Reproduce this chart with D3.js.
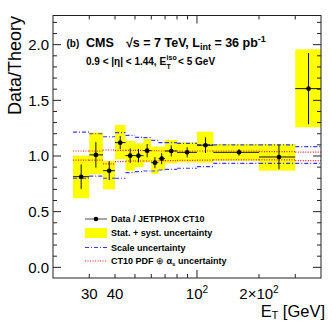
<!DOCTYPE html>
<html>
<head>
<meta charset="utf-8">
<script src="https://cdnjs.cloudflare.com/ajax/libs/d3/7.8.5/d3.min.js"></script>
<style>
  body { margin: 0; background: #fff; }
  text { font-family: 'Liberation Sans', Arial, sans-serif; fill: #000; }
  .hdr { font-weight: bold; }
  .leg { font-weight: bold; font-size: 9px; }
</style>
</head>
<body>
<script>
// E_T bins (GeV) and data / theory ratio
var binEdges = [25, 30, 35, 40, 45, 50, 55, 60, 65, 70, 80, 100, 120, 200, 300, 400];
var pointEt  = [27.4, 32.3, 37.5, 42.4, 47.4, 52, 57.3, 62.5, 67.4, 75, 89.6, 110, 160, 250, 348];
var ratio    = [0.814, 1.01, 0.868, 1.12, 1.003, 1.003, 1.048, 0.94, 0.976, 1.045, 1.033, 1.097, 1.033, 0.991, 1.605];
var statErr  = [0.11, 0.115, 0.085, 0.06, 0.065, 0.06, 0.06, 0.05, 0.05, 0.05, 0.045, 0.07, 0.03, 0.11, 0.32];
// stat + syst band
var totLo = [0.62, 0.835, 0.70, 0.97, 0.868, 0.90, 0.943, 0.838, 0.874, 0.934, 0.943, 0.94, 0.958, 0.868, 1.258];
var totHi = [1.003, 1.212, 0.955, 1.278, 1.137, 1.114, 1.153, 1.084, 1.084, 1.144, 1.123, 1.218, 1.108, 1.108, 1.958];
// scale uncertainty
var scaleHi = [1.215, 1.2, 1.173, 1.21, 1.185, 1.168, 1.165, 1.14, 1.12, 1.12, 1.114, 1.10, 1.10, 1.10, 1.085];
var scaleLo = [0.80, 0.82, 0.80, 0.80, 0.85, 0.86, 0.865, 0.865, 0.874, 0.88, 0.89, 0.904, 0.934, 0.934, 0.934];
// CT10 PDF + alpha_s uncertainty
var pdfHi = [1.045, 1.045, 1.054, 1.05, 1.05, 1.05, 1.048, 1.048, 1.045, 1.045, 1.045, 1.045, 1.045, 1.04, 1.035];
var pdfLo = [0.962, 0.962, 0.93, 0.95, 0.955, 0.955, 0.955, 0.955, 0.958, 0.958, 0.96, 0.962, 0.965, 0.965, 0.958];

var yMajor = [0, 0.5, 1.0, 1.5, 2.0];
var xMinor = [30, 40, 50, 60, 70, 80, 90, 200, 300];
var xMajor = [100];

const W = 332, H = 321;
const L = 53, R = 321, T = 15.5, B = 278;

const x = d3.scaleLog().domain([20, 400]).range([L, R]);
const y = d3.scaleLinear().domain([-0.096, 2.262]).range([B, T]);

const svg = d3.select("body").append("svg")
  .attr("width", W).attr("height", H);

var bins = ratio.map((r, i) => ({
  x0: binEdges[i], x1: binEdges[i + 1], xp: pointEt[i], r: r, e: statErr[i],
  lo: totLo[i], hi: totHi[i], sLo: scaleLo[i], sHi: scaleHi[i], pLo: pdfLo[i], pHi: pdfHi[i]
}));

// yellow stat+syst boxes
svg.append("g").selectAll("rect").data(bins).enter().append("rect")
  .attr("x", d => x(d.x0))
  .attr("width", d => x(d.x1) - x(d.x0))
  .attr("y", d => y(d.hi))
  .attr("height", d => y(d.lo) - y(d.hi))
  .attr("fill", "#ffff00");

// scale (blue dash-dot) and pdf (red dotted) lines
function bandLines(key, color, dash) {
  svg.append("g").selectAll("line").data(bins).enter().append("line")
    .attr("x1", d => x(d.x0)).attr("x2", d => x(d.x1))
    .attr("y1", d => y(d[key])).attr("y2", d => y(d[key]))
    .attr("stroke", color).attr("stroke-width", 1.2)
    .attr("stroke-dasharray", dash);
}
bandLines("sHi", "#3a3aff", "4,2,1,2");
bandLines("sLo", "#3a3aff", "4,2,1,2");
bandLines("pHi", "#ff1a1a", "1,1.5");
bandLines("pLo", "#ff1a1a", "1,1.5");

// data points with error bars
const pts = svg.append("g");
pts.selectAll(".hbar").data(bins).enter().append("line")
  .attr("x1", d => x(d.x0)).attr("x2", d => x(d.x1))
  .attr("y1", d => y(d.r)).attr("y2", d => y(d.r))
  .attr("stroke", "#111").attr("stroke-width", 1);
pts.selectAll(".vbar").data(bins).enter().append("line")
  .attr("x1", d => x(d.xp)).attr("x2", d => x(d.xp))
  .attr("y1", d => y(d.r + d.e)).attr("y2", d => y(d.r - d.e))
  .attr("stroke", "#111").attr("stroke-width", 1);
pts.selectAll("circle").data(bins).enter().append("circle")
  .attr("cx", d => x(d.xp)).attr("cy", d => y(d.r))
  .attr("r", 2.3).attr("fill", "#000");

// frame
svg.append("rect")
  .attr("x", L).attr("y", T).attr("width", R - L).attr("height", B - T)
  .attr("fill", "none").attr("stroke", "#222").attr("stroke-width", 1);

// y axis ticks (inside) + labels
var yMinor = d3.range(0, 2.21, 0.1).map(v => +v.toFixed(1));
const tk = svg.append("g").attr("stroke", "#222").attr("stroke-width", 1);
yMinor.forEach(v => {
  var len = yMajor.indexOf(v) >= 0 ? 8 : 4;
  tk.append("line").attr("x1", L).attr("x2", L + len).attr("y1", y(v)).attr("y2", y(v));
  tk.append("line").attr("x1", R).attr("x2", R - len).attr("y1", y(v)).attr("y2", y(v));
});
svg.append("g").selectAll("text").data(yMajor).enter().append("text")
  .attr("x", L - 4).attr("y", d => y(d)).attr("dy", "0.35em")
  .attr("text-anchor", "end").style("font-size", "15px")
  .text(d => d3.format(".1f")(d));

// x axis ticks (log)
xMinor.concat(xMajor).forEach(v => {
  var len = xMajor.indexOf(v) >= 0 ? 8 : 4;
  tk.append("line").attr("x1", x(v)).attr("x2", x(v)).attr("y1", B).attr("y2", B - len);
  tk.append("line").attr("x1", x(v)).attr("x2", x(v)).attr("y1", T).attr("y2", T + len);
});

// x tick labels
var xLabels = [
  { v: 30, base: "30", sup: "" },
  { v: 40, base: "40", sup: "" },
  { v: 100, base: "10", sup: "2" },
  { v: 200, base: "2\u00d710", sup: "2" }
];
xLabels.forEach(d => {
  var t = svg.append("text").attr("x", x(d.v)).attr("y", 298.5)
    .attr("text-anchor", "middle").style("font-size", "15px");
  t.append("tspan").text(d.base);
  if (d.sup) t.append("tspan").attr("dy", -6).style("font-size", "10px").text(d.sup);
});

// axis titles
var xt = svg.append("text").attr("x", 325).attr("y", 317)
  .attr("text-anchor", "end").style("font-size", "16.5px");
xt.append("tspan").text("E");
xt.append("tspan").attr("dy", 2).style("font-size", "10.5px").text("T");
xt.append("tspan").attr("dy", -2).text(" [GeV]");

svg.append("text")
  .attr("transform", "translate(21,16) rotate(-90)")
  .attr("text-anchor", "end").style("font-size", "18px")
  .text("Data/Theory");

// header text
svg.append("text").attr("class", "hdr").attr("x", 66.5).attr("y", 46.5)
  .style("font-size", "10px").text("(b)");
svg.append("text").attr("class", "hdr").attr("x", 86).attr("y", 46.5)
  .style("font-size", "12.5px").text("CMS");
var h1 = svg.append("text").attr("class", "hdr").attr("x", 126).attr("y", 46.5)
  .style("font-size", "12.5px");
h1.append("tspan").text("\u221as = 7 TeV, L");
h1.append("tspan").attr("dy", 3).style("font-size", "9px").text("int");
h1.append("tspan").attr("dy", -3).text(" = 36 pb");
h1.append("tspan").attr("dy", -5).style("font-size", "9px").text("-1");

var h2 = svg.append("text").attr("class", "hdr").attr("x", 86).attr("y", 65)
  .style("font-size", "10px").text("0.9 < |\u03b7| < 1.44, E");
var h2w = h2.node().getComputedTextLength();
svg.append("text").attr("class", "hdr").attr("x", 86 + h2w + 0.5).attr("y", 60)
  .style("font-size", "7px").text("iso");
svg.append("text").attr("class", "hdr").attr("x", 86 + h2w + 0.5).attr("y", 68.5)
  .style("font-size", "7px").text("T");
svg.append("text").attr("class", "hdr").attr("x", 86 + h2w + 12).attr("y", 65)
  .style("font-size", "10px").text("< 5 GeV");

// legend
var legY = [219, 233, 247.5, 261];
var lx0 = 85, lx1 = 107, ltx = 111;
var lg = svg.append("g");
lg.append("line").attr("x1", lx0).attr("x2", lx1).attr("y1", legY[0]).attr("y2", legY[0])
  .attr("stroke", "#888").attr("stroke-width", 1.5);
lg.append("circle").attr("cx", (lx0 + lx1) / 2).attr("cy", legY[0]).attr("r", 2.3).attr("fill", "#000");
lg.append("rect").attr("x", lx0).attr("y", legY[1] - 5).attr("width", lx1 - lx0).attr("height", 10)
  .attr("fill", "#ffff00");
lg.append("line").attr("x1", lx0).attr("x2", lx1).attr("y1", legY[2]).attr("y2", legY[2])
  .attr("stroke", "#3a3aff").attr("stroke-width", 1.2).attr("stroke-dasharray", "4,2,1,2");
lg.append("line").attr("x1", lx0).attr("x2", lx1).attr("y1", legY[3]).attr("y2", legY[3])
  .attr("stroke", "#ff1a1a").attr("stroke-width", 1.2).attr("stroke-dasharray", "1,1.5");

var legTexts = ["Data / JETPHOX CT10", "Stat. + syst. uncertainty", "Scale uncertainty"];
legTexts.forEach((s, i) => {
  lg.append("text").attr("class", "leg").attr("x", ltx).attr("y", legY[i]).attr("dy", "0.35em").text(s);
});
var l4 = lg.append("text").attr("class", "leg").attr("x", ltx).attr("y", legY[3]).attr("dy", "0.35em");
l4.append("tspan").text("CT10 PDF ");
l4.append("tspan").style("font-weight", "normal").text("\u2295");
l4.append("tspan").text(" \u03b1");
l4.append("tspan").attr("dy", 2).style("font-size", "6px").text("s");
l4.append("tspan").attr("dy", -2).text(" uncertainty");
</script>
</body>
</html>
